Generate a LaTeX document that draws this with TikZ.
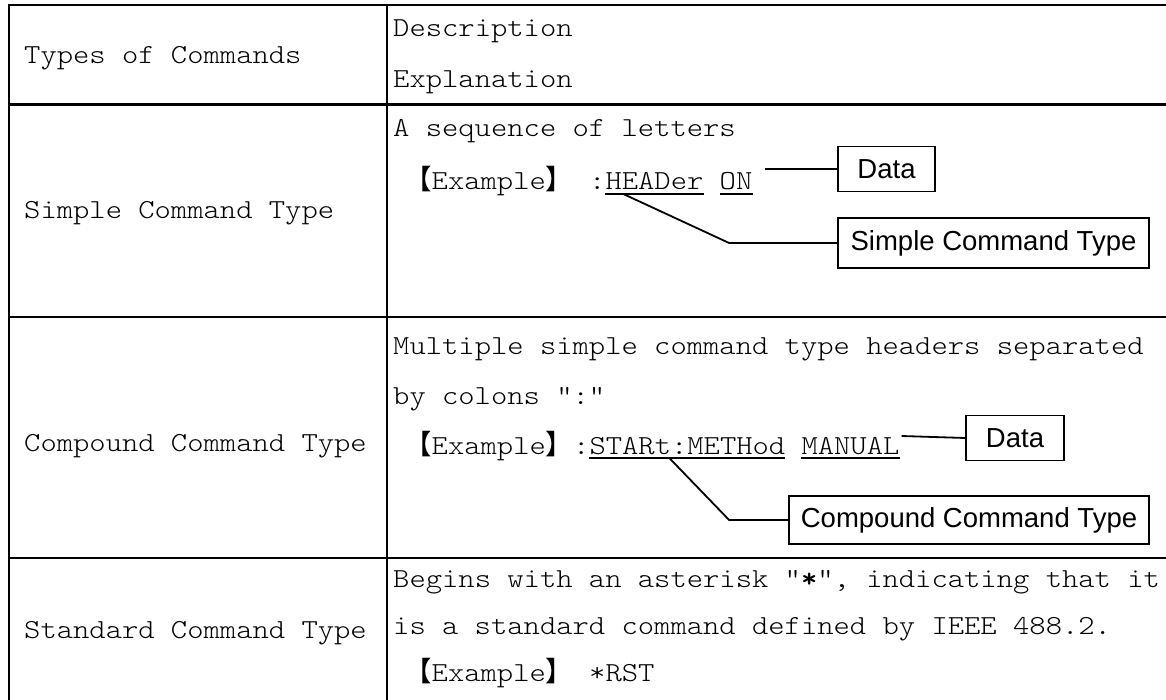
\documentclass[tikz,border=0pt]{standalone}
\usepackage{fontspec}
\usetikzlibrary{calc}
\newfontfamily\mono{lmmonolt10-regular.otf}[FakeStretch=1.13,BoldFont=lmmonolt10-bold.otf]
\newfontfamily\cjk{Noto Sans CJK SC}
\newfontfamily\lsans{Liberation Sans}
\newcommand\mfont{\mono\fontsize{27.5}{33}\selectfont}
\newcommand\exword{{\cjk 【}Example{\cjk 】}}
\tikzset{
  rule/.style={line width=2.2pt},
  headrule/.style={line width=3.4pt},
  mtxt/.style={inner sep=0pt, anchor=base west, font=\mfont},
  lbl/.style={draw, line width=1.8pt, inner sep=0pt, font=\lsans\fontsize{27.5}{33}\selectfont},
  conn/.style={line width=1.8pt},
  uline/.style={line width=1.6pt},
}
\begin{document}
\begin{tikzpicture}[x=1pt,y=-1pt]
\useasboundingbox (0,0) rectangle (1166,700);
\fill[white] (0,0) rectangle (1166,700);
% table rules
\draw[rule, line join=miter] (8.8,700) -- (8.8,5) -- (1166,5);
\draw[rule] (387.3,5) -- (387.3,700);
\draw[headrule] (8.8,104.5) -- (1166,104.5);
\draw[rule] (8.8,316.7) -- (1166,316.7);
\draw[rule] (8.8,558.3) -- (1166,558.3);
% header
\node[mtxt] (hl) at (24,64) {Types of Commands};
\node[mtxt] (hd) at (393,37) {Description};
\node[mtxt] (he) at (393,88) {Explanation};
% row 1
\node[mtxt] (r1l) at (24,219) {Simple Command Type};
\node[mtxt] (r1a) at (393,137) {A sequence of letters};
\node[mtxt] (x1) at (404,190) {\exword};
\node[mtxt] (k1) at (589,190) {:};
\node[mtxt] (h1) at (605.3,190) {HEADer};
\node[mtxt] (o1) at (719.5,190) {ON};
\draw[uline] ($(h1.base west)+(0,4)$) -- ($(h1.base east)+(0,4)$);
\draw[uline] ($(o1.base west)+(0,4)$) -- ($(o1.base east)+(0,4)$);
\node[lbl, minimum width=97pt, minimum height=45pt] (d1) at (886.5,169) {Data};
\node[lbl, minimum width=311pt, minimum height=50pt] (s1) at (993.5,243) {Simple Command Type};
\coordinate (d1s) at ($(o1.base east)+(12,-21)$);
\draw[conn] (d1s) -- (d1.west);
\coordinate (t1s) at ($(h1.base west)+(18,4)$);
\coordinate (t1b) at ($(s1.west)+(-108,0)$);
\draw[conn] (t1s) -- (t1b) -- (s1.west);
% row 2
\node[mtxt] (r2l) at (24,451) {Compound Command Type};
\node[mtxt] (r2a) at (393,354) {Multiple simple command type headers separated};
\node[mtxt] (r2b) at (393,404) {by colons ":"};
\node[mtxt] (x2) at (404,454) {\exword};
\node[mtxt] (k2) at (573,454) {:};
\node[mtxt] (h2) at (589.3,454) {STARt:METHod};
\node[mtxt] (m2) at (801.3,454) {MANUAL};
\draw[uline] ($(h2.base west)+(0,4)$) -- ($(h2.base east)+(0,4)$);
\draw[uline] ($(m2.base west)+(0,4)$) -- ($(m2.base east)+(0,4)$);
\node[lbl, minimum width=98pt, minimum height=45pt] (d2) at (1015,438) {Data};
\node[lbl, minimum width=360pt, minimum height=48pt] (s2) at (969,520) {Compound Command Type};
\coordinate (d2s) at ($(m2.base east)+(2,-18)$);
\draw[conn] (d2s) -- (d2.west);
\coordinate (t2s) at ($(h2.base west)+(80,4)$);
\coordinate (t2b) at ($(s2.west)+(-59,0)$);
\draw[conn] (t2s) -- (t2b) -- (s2.west);
% row 3
\node[mtxt] (r3l) at (24,638) {Standard Command Type};
\node[mtxt] (r3a) at (393,587) {Begins with an asterisk "\textbf{*}", indicating that it};
\node[mtxt] (r3b) at (393,634) {is a standard command defined by IEEE 488.2.};
\node[mtxt] (x3) at (404,681) {\exword};
\node[mtxt] (k3) at (589,681) {*RST};
\end{tikzpicture}
\end{document}
